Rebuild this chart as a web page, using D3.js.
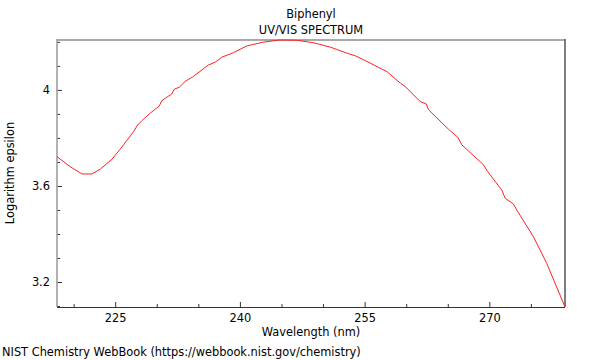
<!DOCTYPE html>
<html><head><meta charset="utf-8">
<script src="https://cdn.jsdelivr.net/npm/d3@7"></script>
<style>body{margin:0;background:#fff}svg{display:block;font-family:"DejaVu Sans",sans-serif}</style>
</head><body>
<svg id="c" width="600" height="360"></svg>
<script>
const title = "Biphenyl";
const subtitle = "UV/VIS SPECTRUM";
const xLabel = "Wavelength (nm)";
const yLabel = "Logarithm epsilon";
const footer = "NIST Chemistry WebBook (https://webbook.nist.gov/chemistry)";
const wavelength = [218.0,219.6,221.0,222.2,223.2,224.6,225.6,227.2,227.7,228.2,229.2,230.3,230.6,231.0,231.8,232.1,232.7,233.4,234.4,236.2,237.0,237.8,239.2,240.8,242.8,244.8,246.8,248.8,250.9,252.9,253.9,254.9,256.5,257.7,259.3,259.9,261.7,262.4,262.7,265.1,266.2,266.7,269.3,269.8,271.5,271.9,272.9,273.3,275.3,276.9,278.5,279.1];
const logEps = [3.722,3.680,3.650,3.650,3.670,3.711,3.753,3.826,3.854,3.872,3.903,3.933,3.955,3.965,3.983,4.003,4.011,4.035,4.056,4.104,4.115,4.136,4.155,4.183,4.199,4.208,4.207,4.197,4.178,4.153,4.142,4.125,4.097,4.076,4.028,4.014,3.951,3.942,3.917,3.836,3.803,3.771,3.688,3.660,3.583,3.549,3.525,3.500,3.389,3.278,3.146,3.096];
const xMajor = [225,240,255,270];
const xMinor = [220,230,235,245,250,260,265,275];
const yMajor = [3.2,3.6,4.0];
const yMinor = [3.1,3.3,3.4,3.5,3.7,3.8,3.9,4.1,4.2];
const xDomain = [218.0, 279.1];
const yDomain = [3.096, 4.208];

const FS = 11.4;
const svg = d3.select("#c");
const L = 57, R = 565, T = 40, B = 307;
const x = d3.scaleLinear().domain(xDomain).range([L, R]);
const y = d3.scaleLinear().domain(yDomain).range([B, T]);

svg.append("text").attr("x", 311).attr("y", 18).attr("text-anchor","middle").attr("font-size",FS).text(title);
svg.append("text").attr("x", 311).attr("y", 34).attr("text-anchor","middle").attr("font-size",FS).text(subtitle);

// axes
const gx = svg.append("g").attr("transform",`translate(0,${B})`)
  .call(d3.axisBottom(x).tickValues(xMajor).tickSize(-5).tickPadding(7).tickFormat(d3.format("d")));
const gxm = svg.append("g").attr("transform",`translate(0,${B})`)
  .call(d3.axisBottom(x).tickValues(xMinor).tickSize(-3).tickFormat(""));
const gy = svg.append("g").attr("transform",`translate(${L},0)`)
  .call(d3.axisLeft(y).tickValues(yMajor).tickSize(-5).tickPadding(7).tickFormat(d3.format("~g")));
const gym = svg.append("g").attr("transform",`translate(${L},0)`)
  .call(d3.axisLeft(y).tickValues(yMinor).tickSize(-3).tickFormat(""));
[gx,gxm,gy,gym].forEach(g=>{
  g.select(".domain").remove();
  g.selectAll("text").attr("font-size",FS).attr("fill","#000").attr("font-family","DejaVu Sans, sans-serif");
  g.selectAll("line").attr("stroke","#333");
});

// frame
svg.append("line").attr("x1",L).attr("x2",R).attr("y1",T).attr("y2",T).attr("stroke","#aaa").attr("stroke-width",2);
svg.append("line").attr("x1",L).attr("x2",L).attr("y1",T-1).attr("y2",B).attr("stroke","#999").attr("stroke-width",1.5);
svg.append("line").attr("x1",R).attr("x2",R).attr("y1",T-1).attr("y2",B).attr("stroke","#555").attr("stroke-width",1.5);
svg.append("line").attr("x1",L).attr("x2",R).attr("y1",B+0.5).attr("y2",B+0.5).attr("stroke","#333").attr("stroke-width",1);

// curve
const line = d3.line().x((d,i)=>x(wavelength[i])).y(d=>y(d));
svg.append("path").datum(logEps).attr("d", line).attr("fill","none").attr("stroke","#ff2020").attr("stroke-width",1);

svg.append("text").attr("x", 311).attr("y", 336).attr("text-anchor","middle").attr("font-size",FS).text(xLabel);
svg.append("text").attr("transform","translate(14,173) rotate(-90)").attr("text-anchor","middle").attr("font-size",FS).text(yLabel);
svg.append("text").attr("x", 2).attr("y", 356).attr("font-size",FS).text(footer);
</script>
</body></html>
